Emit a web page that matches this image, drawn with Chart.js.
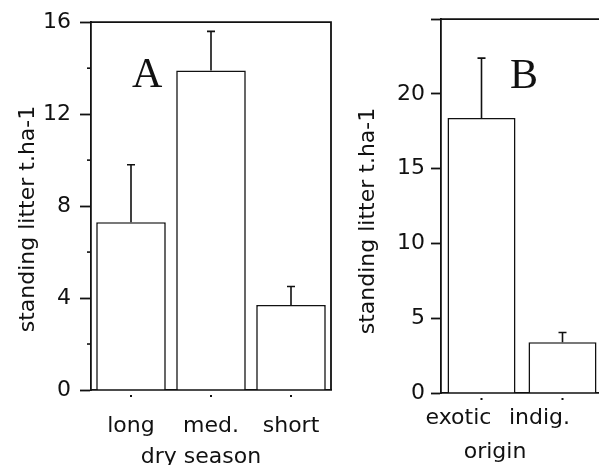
<!DOCTYPE html>
<html>
<head>
<meta charset="utf-8">
<script src="https://cdn.jsdelivr.net/npm/chart.js@4.4.1/dist/chart.umd.min.js"></script>
<style>
  html, body { margin: 0; padding: 0; background: #fff; overflow: hidden; }
  body { width: 599px; height: 465px; position: relative; }
  canvas { position: absolute; top: 0; }
  #chart-a { left: 0; }
  #chart-b { left: 340px; }
</style>
</head>
<body>
<canvas id="chart-a" width="340" height="465"></canvas>
<canvas id="chart-b" width="280" height="465"></canvas>
<script>
// panel A: standing litter by length of dry season
const seasonLabels = ["long", "med.", "short"];
const seasonMeans = [7.3, 13.9, 3.7];
const seasonErrors = [2.5, 1.7, 0.8];
const seasonTicks = [0, 4, 8, 12, 16];
const seasonMinorTicks = [2, 6, 10, 14];

// panel B: standing litter by origin of the species
const originLabels = ["exotic", "indig."];
const originMeans = [18.4, 3.4];
const originErrors = [4.0, 0.65];
const originTicks = [0, 5, 10, 15, 20, 25];
const originTickLabels = ["0", "5", "10", "15", "20", ""];

const ink = "#111";
const sans = "DejaVu Sans";

// frame, error bars, minor ticks, category dots, panel letter and axis titles
const panelDecor = {
    id: "panelDecor",
    afterDatasetsDraw(chart, args, opts) {
        const { ctx, chartArea } = chart;
        const xScale = chart.scales.x;
        const yScale = chart.scales.y;
        ctx.save();
        ctx.strokeStyle = ink;
        ctx.fillStyle = ink;
        ctx.lineWidth = 1.8;

        // top and right edge of the box
        ctx.beginPath();
        ctx.moveTo(chartArea.left, chartArea.top);
        ctx.lineTo(chartArea.right, chartArea.top);
        ctx.lineTo(chartArea.right, chartArea.bottom);
        ctx.stroke();

        // upper error bars only
        ctx.lineWidth = 1.6;
        chart.data.datasets.forEach((ds, di) => {
            chart.getDatasetMeta(di).data.forEach((bar, i) => {
                const top = yScale.getPixelForValue(ds.data[i] + ds.errors[i]);
                ctx.beginPath();
                ctx.moveTo(bar.x, bar.y);
                ctx.lineTo(bar.x, top);
                ctx.moveTo(bar.x - 4, top);
                ctx.lineTo(bar.x + 4, top);
                ctx.stroke();
            });
        });

        // short minor ticks
        (opts.minorTicks || []).forEach((v) => {
            const py = yScale.getPixelForValue(v);
            ctx.beginPath();
            ctx.moveTo(chartArea.left - 4, py);
            ctx.lineTo(chartArea.left, py);
            ctx.stroke();
        });

        // little dots under each category
        xScale.ticks.forEach((t, i) => {
            const px = xScale.getPixelForTick(i);
            ctx.fillRect(px - 1, chartArea.bottom + 5, 2, 2);
        });

        ctx.font = "42px 'Liberation Serif'";
        ctx.textAlign = "left";
        ctx.textBaseline = "alphabetic";
        ctx.fillText(opts.letter, opts.letterX, opts.letterY);

        ctx.font = "22px '" + sans + "'";
        ctx.textAlign = "center";
        ctx.fillText(opts.xTitle, opts.xTitleX, opts.xTitleY);

        ctx.translate(opts.yTitleX, opts.yTitleY);
        ctx.rotate(-Math.PI / 2);
        ctx.font = "22px '" + sans + "'";
        ctx.textBaseline = "middle";
        ctx.fillText(opts.yTitle, 0, 0);
        ctx.restore();
    }
};

function makePanel(canvasId, cfg) {
    const ctx = document.getElementById(canvasId).getContext("2d");
    return new Chart(ctx, {
        type: "bar",
        data: {
            labels: cfg.labels,
            datasets: [{
                data: cfg.means,
                errors: cfg.errors,
                backgroundColor: "#fff",
                borderColor: ink,
                borderWidth: 1.6,
                barPercentage: cfg.barPct,
                categoryPercentage: 1
            }]
        },
        options: {
            responsive: false,
            animation: false,
            layout: { padding: cfg.padding },
            plugins: {
                legend: { display: false },
                tooltip: { enabled: false },
                panelDecor: cfg.decor
            },
            scales: {
                x: {
                    offset: true,
                    grid: { display: false },
                    border: { display: true, color: ink, width: 1.8 },
                    ticks: {
                        color: ink,
                        font: { family: sans, size: 22 },
                        padding: cfg.xPad,
                        labelOffset: cfg.xLabelOffset
                    },
                    afterFit: (s) => { s.height = cfg.xHeight; }
                },
                y: {
                    min: 0,
                    max: cfg.max,
                    afterBuildTicks: (s) => { s.ticks = cfg.ticks.map((v) => ({ value: v })); },
                    grid: { drawOnChartArea: false, tickLength: cfg.tickLen, tickColor: ink, tickWidth: 1.8 },
                    border: { display: true, color: ink, width: 1.8 },
                    ticks: {
                        color: ink,
                        font: { family: sans, size: 22 },
                        padding: cfg.yPad,
                        callback: cfg.tickText
                    },
                    afterFit: (s) => { s.width = cfg.yWidth; }
                }
            }
        },
        plugins: [panelDecor]
    });
}

makePanel("chart-a", {
    labels: seasonLabels,
    means: seasonMeans,
    errors: seasonErrors,
    ticks: seasonTicks,
    max: 16,
    barPct: 0.87,
    padding: { top: 13, right: 9, left: 0, bottom: 0 },
    xHeight: 75,
    yWidth: 91,
    xPad: 15,
    xLabelOffset: 0,
    yPad: 9,
    tickLen: 11,
    tickText: (v) => String(v),
    decor: {
        minorTicks: seasonMinorTicks,
        letter: "A", letterX: 132, letterY: 87,
        xTitle: "dry season", xTitleX: 201, xTitleY: 463,
        yTitle: "standing litter t.ha-1", yTitleX: 28, yTitleY: 219
    }
});

makePanel("chart-b", {
    labels: originLabels,
    means: originMeans,
    errors: originErrors,
    ticks: originTicks,
    max: 25,
    barPct: 0.84,
    padding: { top: 18, right: 17, left: 0, bottom: 0 },
    xHeight: 72,
    yWidth: 101,
    xPad: 4,
    xLabelOffset: -23,
    yPad: 6,
    tickLen: 10,
    tickText: (v, i) => originTickLabels[i],
    decor: {
        minorTicks: [],
        letter: "B", letterX: 170, letterY: 88,
        xTitle: "origin", xTitleX: 155, xTitleY: 458,
        yTitle: "standing litter t.ha-1", yTitleX: 28, yTitleY: 221
    }
});
</script>
</body>
</html>
